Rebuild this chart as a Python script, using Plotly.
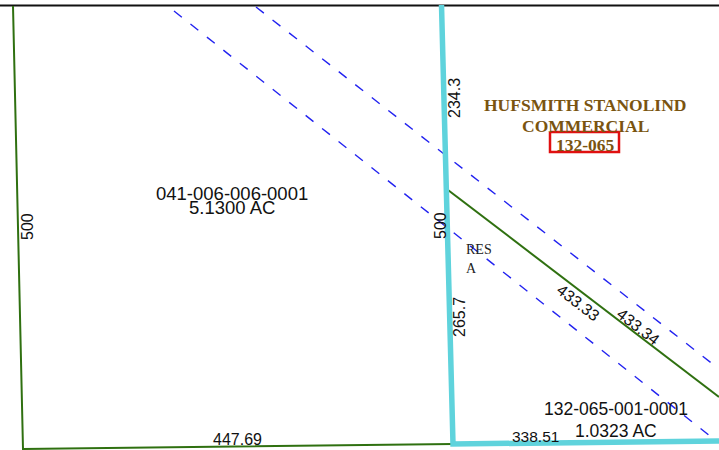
import plotly.graph_objects as go

WIDTH, HEIGHT = 719, 450

# Line work
top_border_x = [0, 719]
top_border_y = [5.5, 5.5]
parcel_west_x = [13, 23, 453]
parcel_west_y = [6, 449, 444]
parcel_diag_x = [448, 719]
parcel_diag_y = [190, 397]
subject_x = [441.5, 453, 719]
subject_y = [5, 444, 441]
easement_a_x = [174, 710]
easement_a_y = [11, 436]
easement_b_x = [256, 719]
easement_b_y = [7, 369]
label_box_x = [550, 619, 619, 550, 550]
label_box_y = [132, 132, 152, 152, 132]

# Text labels: text, x, y, size, rotation
sans_labels = [
    ("041-006-006-0001", 232, 193.5, 18.5, 0),
    ("5.1300 AC", 232, 207.5, 18.5, 0),
    ("500", 27, 227, 16, -90),
    ("447.69", 237, 439, 16, 0),
    ("234.3", 454, 98, 16, -90),
    ("500", 440, 226, 16, -90),
    ("265.7", 459, 317, 16, -90),
    ("433.33", 578, 302, 16, 38),
    ("433.34", 638, 326, 16, 38),
    ("338.51", 535, 436, 15.5, 0),
    ("132-065-001-0001", 616, 409, 17.5, 0),
    ("1.0323 AC", 616, 431, 17.5, 0),
]
serif_labels = [
    ("RES", 479, 249, 14),
    ("A", 471, 268, 14),
]
brown_labels = [
    ("HUFSMITH STANOLIND", 585, 105, 17.5),
    ("COMMERCIAL", 585, 126, 17.5),
    ("132-065", 585, 145, 17.5),
]


def line(x, y, color, width, dash="solid"):
    return go.Scatter(x=x, y=y, mode="lines", hoverinfo="skip", showlegend=False,
                      line=dict(color=color, width=width, dash=dash, shape="linear"))


fig = go.Figure()
fig.add_trace(line(top_border_x, top_border_y, "#111111", 2))
fig.add_trace(line(easement_a_x, easement_a_y, "#2222f0", 1.4, "10px,11px"))
fig.add_trace(line(easement_b_x, easement_b_y, "#2222f0", 1.4, "10px,11px"))
fig.add_trace(line(parcel_west_x, parcel_west_y, "#2f7010", 2))
fig.add_trace(line(parcel_diag_x, parcel_diag_y, "#2f7010", 2))
fig.add_trace(line(subject_x, subject_y, "#5fd3dc", 5.5))
fig.add_trace(line(label_box_x, label_box_y, "#e01010", 2.5))

annotations = []
for text, x, y, size, rot in sans_labels:
    annotations.append(dict(x=x, y=y, text=text, textangle=rot, showarrow=False,
                            xref="x", yref="y", xanchor="center", yanchor="middle",
                            font=dict(family="Liberation Sans", size=size, color="#111111")))
for text, x, y, size in serif_labels:
    annotations.append(dict(x=x, y=y, text=text, showarrow=False,
                            xref="x", yref="y", xanchor="center", yanchor="middle",
                            font=dict(family="Liberation Serif", size=size, color="#222222")))
for text, x, y, size in brown_labels:
    annotations.append(dict(x=x, y=y, text=f"<b>{text}</b>", showarrow=False,
                            xref="x", yref="y", xanchor="center", yanchor="middle",
                            font=dict(family="Liberation Serif", size=size, color="#7a5410")))

fig.update_layout(
    width=WIDTH, height=HEIGHT,
    margin=dict(l=0, r=0, t=0, b=0),
    paper_bgcolor="white", plot_bgcolor="white",
    xaxis=dict(range=[0, WIDTH], visible=False, fixedrange=True),
    yaxis=dict(range=[HEIGHT, 0], visible=False, fixedrange=True),
    annotations=annotations,
    showlegend=False,
)
fig.write_html(
    "out.html",
    config={"displayModeBar": False},
    post_script="document.body.style.margin='0';document.documentElement.style.overflow='hidden';",
)
